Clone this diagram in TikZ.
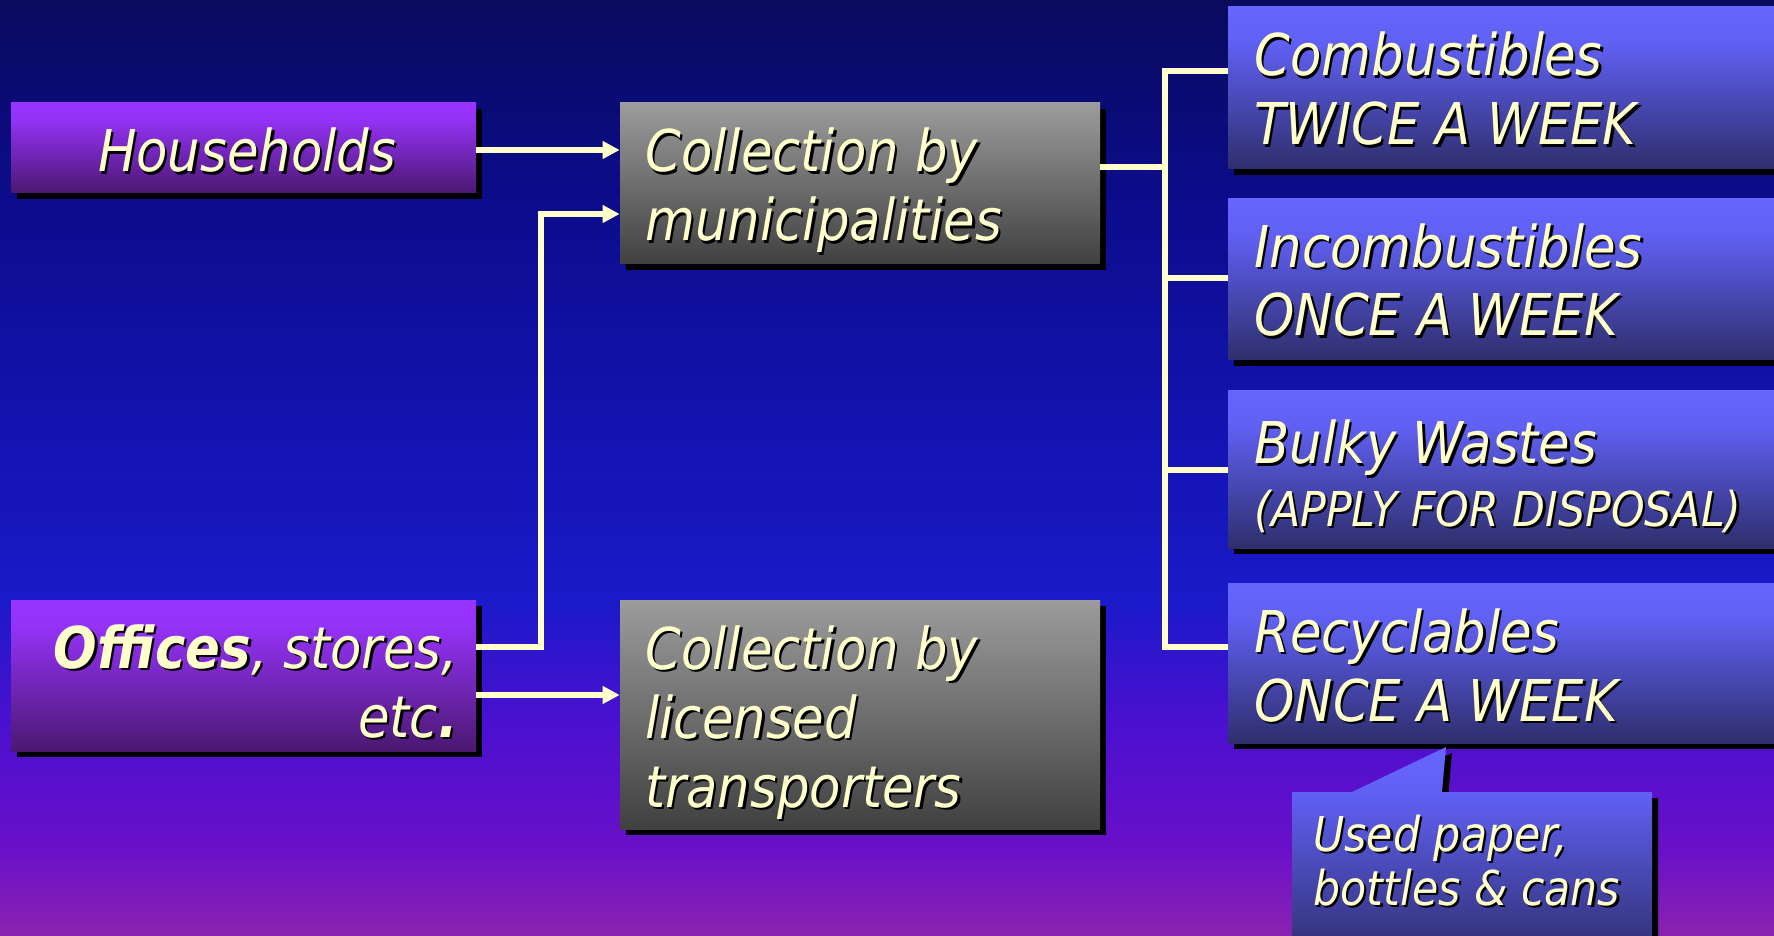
\documentclass[tikz,border=0pt]{standalone}
\usepackage{fontspec}
\setmainfont{DejaVu Sans}[FakeStretch=0.89]
\usetikzlibrary{arrows.meta,shadows}
\definecolor{cream}{HTML}{FFFFCC}
\definecolor{bg0}{HTML}{0A0A5E}
\definecolor{bg1}{HTML}{0C0C8C}
\definecolor{bg2}{HTML}{1414B4}
\definecolor{bg3}{HTML}{1A1AC8}
\definecolor{bg4}{HTML}{4A10D0}
\definecolor{bg5}{HTML}{6A10C8}
\definecolor{bg6}{HTML}{8A22B0}
\definecolor{pt}{HTML}{9933FF}
\definecolor{pm}{HTML}{9432F6}
\definecolor{pb}{HTML}{4A1870}
\definecolor{gt}{HTML}{9C9C9C}
\definecolor{gb}{HTML}{404040}
\definecolor{bt}{HTML}{6666FF}
\definecolor{bm}{HTML}{6060F4}
\definecolor{bb}{HTML}{2E2E6C}
\pgfdeclareverticalshading{bgsh}{100bp}{color(0bp)=(bg6); color(25bp)=(bg6); color(29.6bp)=(bg5); color(36.5bp)=(bg4); color(43bp)=(bg3); color(51bp)=(bg2); color(64.3bp)=(bg1); color(75bp)=(bg0); color(100bp)=(bg0)}
\pgfdeclareverticalshading{purpsh}{100bp}{color(0bp)=(pb); color(25bp)=(pb); color(66bp)=(pm); color(75bp)=(pt); color(100bp)=(pt)}
\pgfdeclareverticalshading{graysh}{100bp}{color(0bp)=(gb); color(25bp)=(gb); color(75bp)=(gt); color(100bp)=(gt)}
\pgfdeclareverticalshading{bluesh}{100bp}{color(0bp)=(bb); color(25bp)=(bb); color(64bp)=(bm); color(75bp)=(bt); color(100bp)=(bt)}
\newcommand\shtx[1]{\leavevmode\rlap{\kern1.2pt\raisebox{-1.2pt}{\textcolor{black}{#1}}}#1}
\newcommand\bigf{\fontsize{28.8pt}{34.5pt}\selectfont\itshape}
\newcommand\smallf{\fontsize{24pt}{27pt}\selectfont\itshape}
\tikzset{
  boxbase/.style={rectangle, inner sep=0pt, draw=none,
    general shadow={fill=black, shadow xshift=3pt, shadow yshift=-3pt}},
  pbox/.style={boxbase, shade, shading=purpsh},
  gbox/.style={boxbase, shade, shading=graysh},
  bbox/.style={boxbase, shade, shading=bluesh},
  txt/.style={inner sep=0pt, text=cream, align=left, anchor=base west},
  ln/.style={draw=cream, line width=3pt, line join=miter, line cap=butt},
  arr/.style={ln, -{Triangle[length=8.5pt,width=8.5pt]}}
}
\begin{document}
\begin{tikzpicture}[x=0.5pt,y=-0.5pt]
\useasboundingbox (0,0) rectangle (1774,936);
\path[shade, shading=bgsh] (0,0) rectangle (1774,936);
% boxes
\node[pbox, minimum width=232.5pt, minimum height=45pt] (hh) at (243.5,148) {};
\node[pbox, minimum width=232.5pt, minimum height=75.5pt] (of) at (243.5,675.5) {};
\node[gbox, minimum width=240pt, minimum height=80.5pt] (cm) at (860,183.5) {};
\node[gbox, minimum width=240pt, minimum height=114.5pt] (cl) at (860,714.5) {};
\node[bbox, minimum width=286pt, minimum height=81pt] (c1) at (1514,88) {};
\node[bbox, minimum width=286pt, minimum height=80.5pt] (c2) at (1514,279.5) {};
\node[bbox, minimum width=286pt, minimum height=78.5pt] (c3) at (1514,469.5) {};
\node[bbox, minimum width=286pt, minimum height=80pt] (c4) at (1514,663) {};
% callout
\coordinate (tip) at (1446,747);
\path[shade, shading=bluesh, general shadow={fill=black, shadow xshift=3pt, shadow yshift=-3pt}]
  (1292,792) -- (1352,792) -- (tip) -- (1442,792) -- (1652,792) -- (1652,960) -- (1292,960) -- cycle;
% texts (base anchor = last line baseline)
\node[txt, font=\bigf, anchor=base] (thh) at (247,172) {\shtx{Households}};
\node[txt, font=\bigf, anchor=base east, align=right] (tof) at (458,737) {\shtx{\textbf{Offices}, stores,}\\\shtx{etc\textbf{.}}};
\node[txt, font=\bigf] (tcm) at (645,241) {\shtx{Collection by}\\\shtx{municipalities}};
\node[txt, font=\bigf] (tcl) at (645,807) {\shtx{Collection by}\\\shtx{licensed}\\\shtx{transporters}};
\node[txt, font=\bigf] (t1) at (1254,145) {\shtx{Combustibles}\\\shtx{TWICE A WEEK}};
\node[txt, font=\bigf] (t2) at (1254,336) {\shtx{Incombustibles}\\\shtx{ONCE A WEEK}};
\node[txt, font=\bigf] (t3a) at (1254,464) {\shtx{Bulky Wastes}};
\node[txt, font=\smallf] (t3b) at (1254,526) {\shtx{(APPLY FOR DISPOSAL)}};
\node[txt, font=\bigf] (t4) at (1254,721) {\shtx{Recyclables}\\\shtx{ONCE A WEEK}};
\node[txt, font=\smallf] (tco) at (1313,905) {\shtx{Used paper,}\\\shtx{bottles \& cans}};
% connectors
\coordinate (j1) at (541,214);
\draw[arr] ([yshift=-1pt]hh.east) -- ([yshift=-1pt]hh.east -| cm.west);
\draw[arr] (of.east |- 0,647) -| (j1) -- (j1 -| cm.west);
\draw[arr] (of.east |- 0,695) -- (cl.west |- 0,695);
\coordinate (bt) at (1165,71);
\coordinate (bb) at (1165,647);
\draw[ln] (c1.west |- bt) -- (bt) -- (bb) -- (c4.west |- bb);
\draw[ln] (cm.east |- 0,167) -- (bt |- 0,167);
\draw[ln] (bt |- 0,278) -- (c2.west |- 0,278);
\draw[ln] (bt |- 0,470) -- (c3.west |- 0,470);
\end{tikzpicture}
\end{document}
